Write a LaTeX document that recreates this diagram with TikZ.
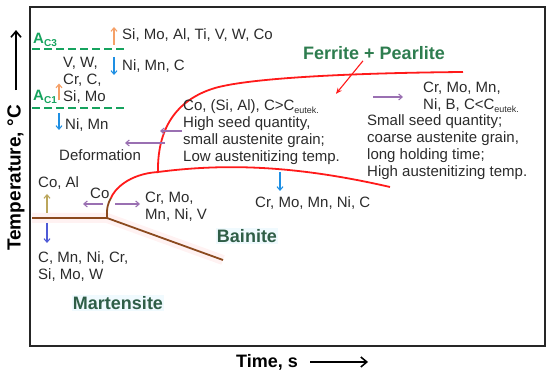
\documentclass[tikz,border=0pt]{standalone}
\usepackage{fontspec}
\setmainfont{Liberation Sans}
\usetikzlibrary{arrows.meta}
\definecolor{ACgreen}{HTML}{16A35E}
\definecolor{FPgreen}{HTML}{2E7D4F}
\definecolor{BMgreen}{HTML}{2F5E47}
\definecolor{CCTred}{HTML}{FF1A1A}
\definecolor{CCTbrown}{HTML}{8B4A1E}
\definecolor{ELorange}{HTML}{F5A067}
\definecolor{ELblue}{HTML}{1E8FE3}
\definecolor{ELviolet}{HTML}{4E5AD6}
\definecolor{ELkhaki}{HTML}{BBA65C}
\definecolor{ELpurple}{HTML}{9A70B2}
\definecolor{TXTgray}{HTML}{2B2B2B}
\newcommand{\eutek}{\raisebox{-3pt}{\fontsize{9}{9}\selectfont eutek.}}
\newcommand{\acsub}[1]{A\raisebox{-3pt}{\fontsize{10}{10}\selectfont #1}}
\tikzset{
  lbl/.style={inner sep=0pt, text=TXTgray, font=\fontsize{15}{17}\selectfont, align=left},
  aclbl/.style={inner sep=0pt, text=ACgreen, font=\fontsize{15}{17}\selectfont\bfseries},
  phase/.style={inner sep=1pt, font=\fontsize{18}{20}\selectfont\bfseries},
  acline/.style={ACgreen, line width=2.2pt, dash pattern=on 8pt off 4pt},
  cctred/.style={CCTred, line width=1.8pt},
  cctbrown/.style={CCTbrown, line width=1.8pt},
  halo/.style={red!5, line width=10pt},
  elarr/.style={-{Straight Barb[length=3.5pt,width=6pt]}, line width=1.1pt},
  axarr/.style={-{Straight Barb[length=6pt,width=10pt]}, line width=1.6pt},
}
\begin{document}
\begin{tikzpicture}[x=1pt,y=-1pt]
  % canvas and frame
  \useasboundingbox (0,0) rectangle (550,374);
  \draw[line width=1.8pt, black!85] (30,7) rectangle (545,346);
  % axis titles
  \node[rotate=90, inner sep=0pt, font=\fontsize{19}{21}\selectfont\bfseries] (templbl) at (16,178) {Temperature, °C};
  \draw[axarr] (templbl.east) ++(0,-15) -- ++(0,-60);
  \node[inner sep=0pt, font=\fontsize{18}{20}\selectfont\bfseries] (timelbl) at (267,362) {Time, s};
  \draw[axarr] (timelbl.east) ++(12,0) -- ++(58,0);
  % Ac3 and Ac1 lines
  \draw[acline] (32,49) -- (126,49);
  \draw[acline] (32,108) -- (126,108);
  \node[aclbl, anchor=base west] (ac3) at (33,44) {\acsub{C3}};
  \node[aclbl, anchor=base west] (ac1) at (33,101) {\acsub{C1}};
  % martensite start and bainite lines
  \draw[halo] (32,218) -- (107,218) -- (223,260);
  \draw[cctbrown] (32,218) -- (107,218) -- (223,260);
  \draw[cctbrown] (107,218) .. controls (106.5,208) and (108,203) .. (111,198);
  \draw[cctred] (111,198) .. controls (114,190) and (128,174) .. (158,172)
     .. controls (220,164) and (290,164) .. (390,187);
  % ferrite + pearlite start curve
  \draw[cctred] (463,72) .. controls (350,73) and (250,78) .. (215,88)
     .. controls (175,100) and (157,130) .. (158,173);
  % phase names
  \node[phase, text=FPgreen] (ferrite) at (374,53) {Ferrite + Pearlite};
  \node[phase, text=BMgreen, fill=cyan!6] (bainite) at (247,236) {Bainite};
  \node[phase, text=BMgreen, fill=cyan!6] (marten) at (118,303) {Martensite};
  \draw[-{Stealth[length=6pt,width=5pt]}, CCTred, line width=1.1pt] (ferrite.south) ++(-11,0) -- ++(-27,33);
  % elements acting on Ac3 / Ac1
  \node[lbl, anchor=west] (upac3) at (122,35) {Si, Mo, Al, Ti, V, W, Co};
  \draw[elarr, ELorange] (upac3.west) ++(-8,10) -- ++(0,-18);
  \node[lbl, anchor=west] (dnac3) at (122,66) {Ni, Mn, C};
  \draw[elarr, ELblue] (dnac3.west) ++(-8,-9) -- ++(0,18);
  \node[lbl, anchor=north west] (upac1) at (63,56.5) {V, W,\\Cr, C,\\Si, Mo};
  \draw[elarr, ELorange] (upac1.north west) ++(-4,44) -- ++(0,-17);
  \node[lbl, anchor=west] (dnac1) at (65,125) {Ni, Mn};
  \draw[elarr, ELblue] (dnac1.west) ++(-6,-12) -- ++(0,17);
  \node[lbl, anchor=west] (deform) at (59,155) {Deformation};
  % shift of the ferrite nose
  \node[lbl, anchor=north west] (coblock) at (183,99.5) {Co, (Si, Al), C>C\eutek\\High seed quantity,\\small austenite grain;\\Low austenitizing temp.};
  \draw[elarr, ELpurple] (coblock.north west) ++(-1,31.5) -- ++(-22,0);
  \draw[elarr, ELpurple] (coblock.north west) ++(-18,43.5) -- ++(-40,0);
  \node[lbl, anchor=north west] (rightA) at (423,81.5) {Cr, Mo, Mn,\\Ni, B, C<C\eutek};
  \draw[elarr, ELpurple] (rightA.north west) ++(-50,15.5) -- ++(30,0);
  \node[lbl, anchor=north west] (rightB) at (367,114.5) {Small seed quantity;\\coarse austenite grain,\\long holding time;\\High austenitizing temp.};
  \node[lbl, anchor=west] (crmo2) at (255,203) {Cr, Mo, Mn, Ni, C};
  \draw[elarr, ELblue] (crmo2.west) ++(25,-31) -- ++(0,19);
  % bainite nose and Ms
  \node[lbl, anchor=west] (co) at (90,193) {Co};
  \draw[elarr, ELpurple] (co.west) ++(13,11) -- ++(-20,0);
  \draw[elarr, ELpurple] (co.west) ++(25,11) -- ++(25,0);
  \node[lbl, anchor=north west] (crmo) at (145,191.5) {Cr, Mo,\\Mn, Ni, V};
  \node[lbl, anchor=west] (coal) at (38,183) {Co, Al};
  \draw[elarr, ELkhaki] (coal.west) ++(9,30) -- ++(0,-19);
  \draw[elarr, ELviolet] (coal.west) ++(9,40) -- ++(0,20);
  \node[lbl, anchor=north west] (cmn) at (38,251.5) {C, Mn, Ni, Cr,\\Si, Mo, W};
\end{tikzpicture}
\end{document}
